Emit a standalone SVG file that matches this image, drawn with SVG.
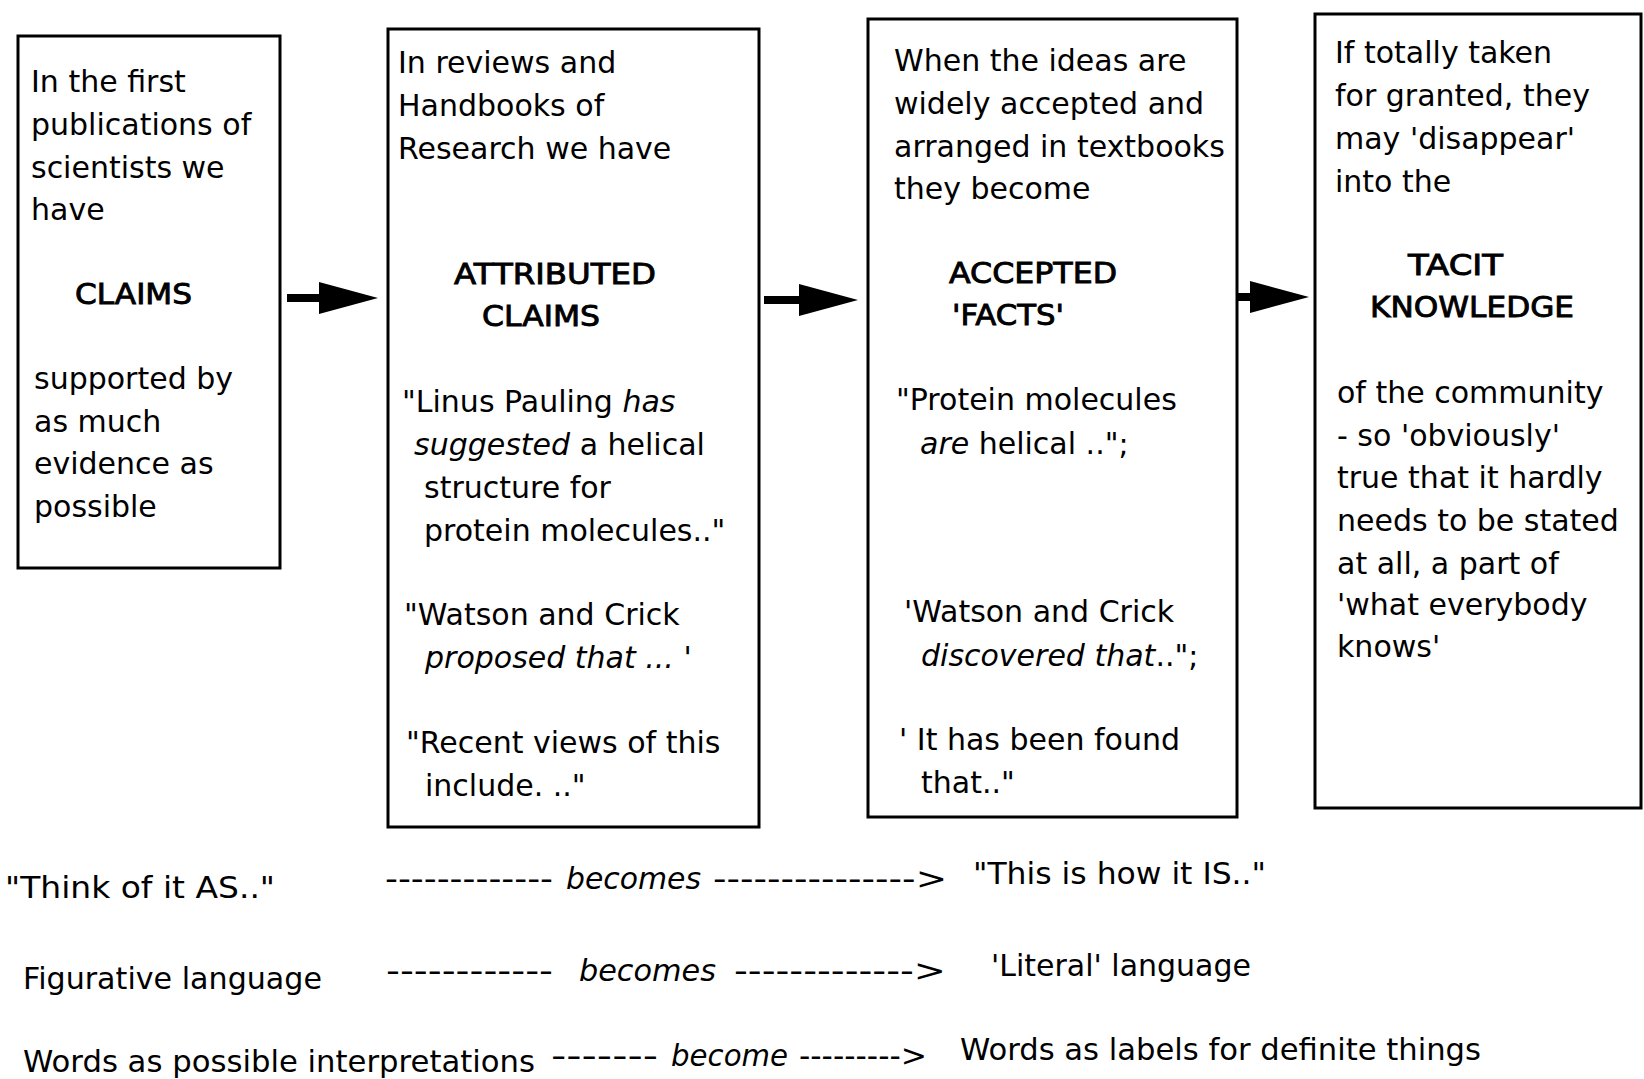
<svg xmlns="http://www.w3.org/2000/svg" width="1644" height="1079" viewBox="0 0 1644 1079">
<style>
.box{fill:#fff;stroke:#000;stroke-width:3}
.t{font-family:"DejaVu Sans",Verdana,sans-serif;font-size:30px;fill:#000}
.h{font-family:"DejaVu Sans",Verdana,sans-serif;font-size:29px;fill:#000;stroke:#000;stroke-width:0.9}
.i{font-style:italic}
.c{stroke:#000;stroke-width:8;fill:none}
.bt{font-family:"DejaVu Sans",Verdana,sans-serif;font-size:30px;fill:#000}
</style>
<defs>
<marker id="ah" viewBox="0 0 59 32" refX="1" refY="16" markerWidth="59" markerHeight="32" markerUnits="userSpaceOnUse" orient="auto">
<path d="M0,0 L59,16 L0,32 Z" fill="#000"/>
</marker>
</defs>
<rect width="1644" height="1079" fill="#fff"/>
<g id="claims">
<rect class="box" x="18" y="36" width="262" height="532"/>
<text class="t"><tspan x="31" y="92">In the first</tspan><tspan x="31" y="135">publications of</tspan><tspan x="31" y="178">scientists we</tspan><tspan x="31" y="220">have</tspan></text>
<text class="h" x="75" y="304" textLength="117" lengthAdjust="spacingAndGlyphs">CLAIMS</text>
<text class="t"><tspan x="34" y="389">supported by</tspan><tspan x="34" y="432">as much</tspan><tspan x="34" y="474">evidence as</tspan><tspan x="34" y="517">possible</tspan></text>
</g>
<g id="attributed-claims">
<rect class="box" x="388" y="29" width="371" height="798"/>
<text class="t"><tspan x="398" y="73">In reviews and</tspan><tspan x="398" y="116">Handbooks of</tspan><tspan x="398" y="159">Research we have</tspan></text>
<text class="h" x="454" y="284" textLength="202" lengthAdjust="spacingAndGlyphs">ATTRIBUTED</text>
<text class="h" x="482" y="326" textLength="118" lengthAdjust="spacingAndGlyphs">CLAIMS</text>
<text class="t"><tspan x="402" y="412">"Linus Pauling <tspan class="i">has</tspan></tspan><tspan x="414" y="455"><tspan class="i">suggested</tspan> a helical</tspan><tspan x="424" y="498">structure for</tspan><tspan x="424" y="541">protein molecules.."</tspan></text>
<text class="t"><tspan x="404" y="625">"Watson and Crick</tspan><tspan x="425" y="668" class="i">proposed that ... '</tspan></text>
<text class="t"><tspan x="406" y="753">"Recent views of this</tspan><tspan x="425" y="796">include. .."</tspan></text>
</g>
<g id="accepted-facts">
<rect class="box" x="868" y="19" width="369" height="798"/>
<text class="t"><tspan x="894" y="71">When the ideas are</tspan><tspan x="894" y="114">widely accepted and</tspan><tspan x="894" y="157">arranged in textbooks</tspan><tspan x="894" y="199">they become</tspan></text>
<text class="h" x="949" y="283" textLength="168" lengthAdjust="spacingAndGlyphs">ACCEPTED</text>
<text class="h" x="952" y="325" textLength="112" lengthAdjust="spacingAndGlyphs">'FACTS'</text>
<text class="t"><tspan x="896" y="410">"Protein molecules</tspan><tspan x="920" y="454"><tspan class="i">are</tspan> helical ..";</tspan></text>
<text class="t"><tspan x="904" y="622">'Watson and Crick</tspan><tspan x="921" y="666"><tspan class="i">discovered that</tspan>..";</tspan></text>
<text class="t"><tspan x="899" y="750">' It has been found</tspan><tspan x="921" y="793">that.."</tspan></text>
</g>
<g id="tacit-knowledge">
<rect class="box" x="1315" y="14" width="326" height="794"/>
<text class="t"><tspan x="1335" y="63">If totally taken</tspan><tspan x="1335" y="106">for granted, they</tspan><tspan x="1335" y="149">may 'disappear'</tspan><tspan x="1335" y="192">into the</tspan></text>
<text class="h" x="1408" y="275" textLength="95" lengthAdjust="spacingAndGlyphs">TACIT</text>
<text class="h" x="1370" y="317" textLength="204" lengthAdjust="spacingAndGlyphs">KNOWLEDGE</text>
<text class="t"><tspan x="1337" y="403">of the community</tspan><tspan x="1337" y="446">- so 'obviously'</tspan><tspan x="1337" y="488">true that it hardly</tspan><tspan x="1337" y="531">needs to be stated</tspan><tspan x="1337" y="574">at all, a part of</tspan><tspan x="1337" y="615">'what everybody</tspan><tspan x="1337" y="657">knows'</tspan></text>
</g>
<g id="connectors">
<line class="c" x1="287" y1="298" x2="320" y2="298" marker-end="url(#ah)"/>
<line class="c" x1="764" y1="300" x2="800" y2="300" marker-end="url(#ah)"/>
<line class="c" x1="1237" y1="297" x2="1251" y2="297" marker-end="url(#ah)"/>
</g>
<g id="legend">
<text class="bt" x="5" y="898" textLength="270" lengthAdjust="spacingAndGlyphs">"Think of it AS.."</text>
<text class="bt" x="385" y="889" textLength="168" lengthAdjust="spacingAndGlyphs">-------------</text>
<text class="bt i" x="566" y="889" textLength="135" lengthAdjust="spacingAndGlyphs">becomes</text>
<text class="bt" x="713" y="889" textLength="234" lengthAdjust="spacingAndGlyphs">---------------&gt;</text>
<text class="bt" x="973" y="884" textLength="293" lengthAdjust="spacingAndGlyphs">"This is how it IS.."</text>
<text class="bt" x="23" y="989" textLength="299" lengthAdjust="spacingAndGlyphs">Figurative language</text>
<text class="bt" x="386" y="981" textLength="167" lengthAdjust="spacingAndGlyphs">------------</text>
<text class="bt i" x="579" y="981" textLength="137" lengthAdjust="spacingAndGlyphs">becomes</text>
<text class="bt" x="734" y="981" textLength="212" lengthAdjust="spacingAndGlyphs">-------------&gt;</text>
<text class="bt" x="991" y="976" textLength="260" lengthAdjust="spacingAndGlyphs">'Literal' language</text>
<text class="bt" x="23" y="1072" textLength="512" lengthAdjust="spacingAndGlyphs">Words as possible interpretations</text>
<text class="bt" x="551" y="1066" textLength="107" lengthAdjust="spacingAndGlyphs">-------</text>
<text class="bt i" x="671" y="1066" textLength="117" lengthAdjust="spacingAndGlyphs">become</text>
<text class="bt" x="799" y="1066" textLength="128" lengthAdjust="spacingAndGlyphs">---------&gt;</text>
<text class="bt" x="960" y="1060" textLength="521" lengthAdjust="spacingAndGlyphs">Words as labels for definite things</text>
</g>
</svg>
